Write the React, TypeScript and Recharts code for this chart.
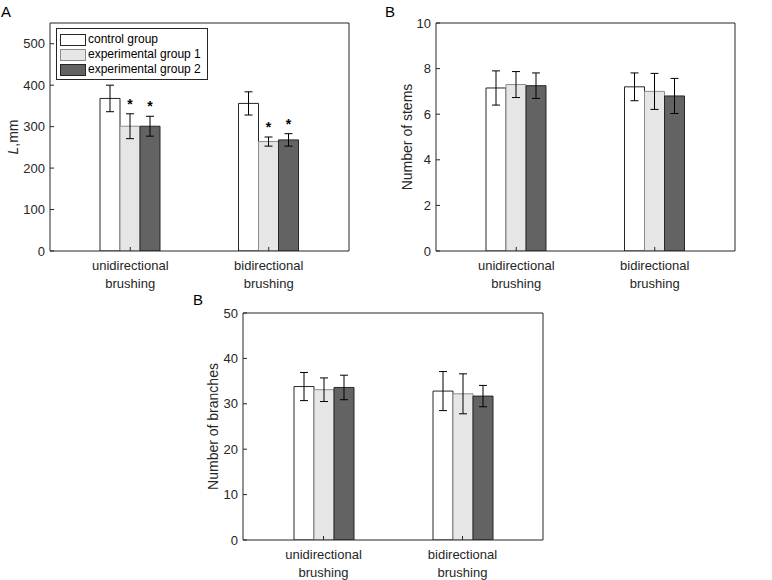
import React from 'react';
import { BarChart, Bar, XAxis, YAxis, ErrorBar, LabelList, Legend, Label } from 'recharts';

const categories = ['unidirectional brushing', 'bidirectional brushing'];
const groups = ['control group', 'experimental group 1', 'experimental group 2'];

// A: shoot length L, mm
const lenControl = [368, 356];
const lenExp1 = [301, 264];
const lenExp2 = [301, 268];
const lenControlErr = [32, 28];
const lenExp1Err = [30, 11];
const lenExp2Err = [24, 15];
const lenExp1Sig = [true, true];
const lenExp2Sig = [true, true];
const lenTicks = [0, 100, 200, 300, 400, 500];

// B: number of stems
const stemControl = [7.15, 7.2];
const stemExp1 = [7.3, 7.0];
const stemExp2 = [7.25, 6.8];
const stemControlErr = [0.75, 0.61];
const stemExp1Err = [0.57, 0.79];
const stemExp2Err = [0.56, 0.77];
const stemTicks = [0, 2, 4, 6, 8, 10];

// B (lower): number of branches
const branchControl = [33.8, 32.8];
const branchExp1 = [33.1, 32.2];
const branchExp2 = [33.6, 31.7];
const branchControlErr = [3.1, 4.3];
const branchExp1Err = [2.6, 4.4];
const branchExp2Err = [2.7, 2.35];
const branchTicks = [0, 10, 20, 30, 40, 50];

const font = '"Liberation Sans", Arial, Helvetica, sans-serif';
const axisColor = '#262626';
const fills = ['#ffffff', '#e6e6e6', '#636363'];
const strokes = ['#262626', '#8c8c8c', '#262626'];

const buildData = (vals: number[][], errs: number[][]) =>
  categories.map((cat, i) => ({
    cat,
    v0: vals[0][i], e0: errs[0][i],
    v1: vals[1][i], e1: errs[1][i],
    v2: vals[2][i], e2: errs[2][i],
  }));

const lenData = buildData([lenControl, lenExp1, lenExp2], [lenControlErr, lenExp1Err, lenExp2Err]);
const stemData = buildData([stemControl, stemExp1, stemExp2], [stemControlErr, stemExp1Err, stemExp2Err]);
const branchData = buildData([branchControl, branchExp1, branchExp2], [branchControlErr, branchExp1Err, branchExp2Err]);

const CatTick = (props: any) => {
  const { x, y, payload } = props;
  const [a, b] = String(payload.value).split(' ');
  return (
    <text x={x} y={y} textAnchor="middle" fontSize={13} fill={axisColor} fontFamily={font}>
      <tspan x={x} dy={19}>{a}</tspan>
      <tspan x={x} dy={18}>{b}</tspan>
    </text>
  );
};

const LegendBox = () => (
  <div style={{ border: `1px solid ${axisColor}`, background: '#fff', padding: '3px 4px 2px 3px', fontFamily: font, fontSize: 12, color: '#000', width: 143, lineHeight: '15px' }}>
    {groups.map((g, k) => (
      <div key={g} style={{ display: 'flex', alignItems: 'center', height: 15, whiteSpace: 'nowrap' }}>
        <span style={{ display: 'inline-block', width: 24, height: 10, background: fills[k], border: `1px solid ${strokes[k]}`, marginRight: 2 }} />
        {g}
      </div>
    ))}
  </div>
);

const starContent = (data: any[], k: number, sig: boolean[]) => (p: any) => {
  const idx = p.index;
  if (idx == null || !sig[idx]) return null;
  const vb = p.viewBox && p.viewBox.width != null ? p.viewBox : p;
  const { x, y, width, height } = vb;
  const v = data[idx][`v${k}`];
  const e = data[idx][`e${k}`];
  const top = y - (e * height) / v;
  return (
    <text x={x + width / 2} y={top - 5} textAnchor="middle" fontSize={14} fontWeight="bold" fontFamily={font} fill="#000">*</text>
  );
};

type PanelProps = {
  left: number; top: number; width: number; height: number;
  yWidth: number; marginTop: number; marginRight: number; xHeight: number;
  data: any[]; domain: [number, number]; ticks: number[];
  yLabel: React.ReactNode; labelX: number;
  stars?: (boolean[] | null)[]; showLegend?: boolean;
};

// top and right axes are 1px wide, so margins are 1px smaller than the plot gap
function Panel(pr: PanelProps) {
  const { data, domain, ticks } = pr;
  return (
    <div style={{ position: 'absolute', left: pr.left, top: pr.top }}>
      <BarChart width={pr.width} height={pr.height} data={data} barGap={0}
        margin={{ top: pr.marginTop - 1, right: pr.marginRight - 1, bottom: 0, left: 0 }}>
        <XAxis xAxisId="b" dataKey="cat" interval={0} padding={{ left: 11, right: 11 }} height={pr.xHeight}
          tickSize={-4} tickMargin={4} tick={<CatTick />} stroke={axisColor} />
        <XAxis xAxisId="t" orientation="top" dataKey="cat" interval={0} padding={{ left: 11, right: 11 }} height={1}
          tickSize={-4} tick={false} stroke={axisColor} />
        <YAxis yAxisId="l" domain={domain} ticks={ticks} width={pr.yWidth} tickSize={-4} tickMargin={9}
          stroke={axisColor} allowDataOverflow
          tick={{ fontSize: 13, fill: axisColor, fontFamily: font }}>
          <Label content={(lp: any) => {
            const vb = lp.viewBox;
            const cy = vb.y + vb.height / 2;
            return (
              <text x={pr.labelX} y={cy} transform={`rotate(-90 ${pr.labelX} ${cy})`} textAnchor="middle"
                dominantBaseline="central" fontSize={14} fill={axisColor} fontFamily={font}>{pr.yLabel}</text>
            );
          }} />
        </YAxis>
        <YAxis yAxisId="r" orientation="right" domain={domain} ticks={ticks} width={1} tickSize={-4}
          tick={false} stroke={axisColor} allowDataOverflow />
        {[0, 1, 2].map((k) => (
          <Bar key={k} xAxisId="b" yAxisId="l" dataKey={`v${k}`} name={groups[k]} fill={fills[k]} stroke={strokes[k]}
            strokeWidth={1} barSize={20} isAnimationActive={false}>
            <ErrorBar dataKey={`e${k}`} width={4} stroke="#000" strokeWidth={1} direction="y" isAnimationActive={false} />
            {pr.stars && pr.stars[k] ? (
              <LabelList dataKey={`v${k}`} content={starContent(data, k, pr.stars[k] as boolean[])} />
            ) : null}
          </Bar>
        ))}
        {pr.showLegend ? (
          <Legend layout="vertical" align="center" verticalAlign="middle" content={() => <LegendBox />}
            wrapperStyle={{ left: 56, top: 28, width: 'auto' }} />
        ) : null}
      </BarChart>
    </div>
  );
}

const letterStyle = (left: number, top: number): React.CSSProperties => ({
  position: 'absolute', left, top, fontFamily: font, fontSize: 15, color: '#000', lineHeight: '15px',
});

export default function App() {
  return (
    <div style={{ position: 'absolute', left: 0, top: 0, width: 772, height: 580, background: '#fff', overflow: 'hidden' }}>
      <div style={letterStyle(1, 4)}>A</div>
      <div style={letterStyle(385, 4)}>B</div>
      <div style={letterStyle(193, 292)}>B</div>
      <Panel left={0} top={0} width={360} height={300} yWidth={50} marginTop={23} marginRight={11} xHeight={49}
        data={lenData} domain={[0, 550]} ticks={lenTicks}
        yLabel={<><tspan fontStyle="italic">L</tspan>,mm</>} labelX={13}
        stars={[null, lenExp1Sig, lenExp2Sig]} showLegend />
      <Panel left={380} top={0} width={370} height={300} yWidth={56} marginTop={23} marginRight={15} xHeight={49}
        data={stemData} domain={[0, 10]} ticks={stemTicks}
        yLabel="Number of stems" labelX={27} />
      <Panel left={180} top={290} width={380} height={300} yWidth={63} marginTop={23} marginRight={17} xHeight={50}
        data={branchData} domain={[0, 50]} ticks={branchTicks}
        yLabel="Number of branches" labelX={33} />
    </div>
  );
}
